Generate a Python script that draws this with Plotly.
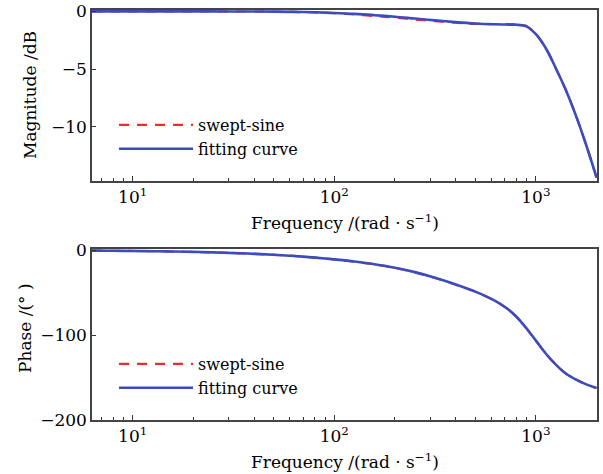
import math
import plotly.graph_objects as go

# Frequency grid (rad/s)
freq = [6.28, 8, 10, 13, 16, 20, 25, 32, 40, 50, 63, 80, 100, 126, 158, 200,
        251, 316, 398, 501, 631, 708, 794, 891, 1000, 1122, 1259, 1413,
        1585, 1778, 2000]

# Magnitude (dB)
mag_swept = [0.0, 0.0, 0.0, 0.0, 0.0, 0.0, 0.0, -0.01, -0.01, -0.03, -0.05,
             -0.09, -0.16, -0.27, -0.40, -0.54, -0.70, -0.85, -0.98, -1.08,
             -1.10, -1.10, -1.12, -1.25, -1.98, -3.22, -4.97, -6.88, -9.1,
             -11.6, -14.4]
mag_fit = [0.0, 0.0, 0.0, 0.0, 0.0, 0.0, 0.0, -0.01, -0.01, -0.02, -0.04,
           -0.08, -0.14, -0.22, -0.33, -0.46, -0.62, -0.78, -0.93, -1.05,
           -1.12, -1.14, -1.16, -1.28, -1.98, -3.22, -4.97, -6.88, -9.1,
           -11.6, -14.4]

# Phase (deg)
phase_swept = [-0.7, -0.9, -1.1, -1.45, -1.8, -2.2, -2.8, -3.6, -4.5, -5.6,
               -7.0, -8.9, -11.1, -13.8, -16.9, -21.1, -26.3, -32.9, -40.6,
               -49.2, -60.3, -67.8, -77.7, -91.1, -106.6, -122.1, -135.1,
               -145.6, -152.6, -158.1, -162.4]
phase_fit = [-0.7, -0.9, -1.1, -1.45, -1.8, -2.2, -2.8, -3.6, -4.5, -5.6,
             -7.0, -8.9, -11.0, -13.6, -16.7, -20.8, -26.0, -32.6, -40.3,
             -49.0, -60.1, -67.6, -77.6, -91.1, -106.6, -122.1, -135.1,
             -145.6, -152.6, -158.1, -162.4]

X_TITLE = "Frequency /(rad · s<sup>−1</sup>)"
MAG_TITLE = "Magnitude /dB"
PHASE_TITLE = "Phase /(° )"

RED = "#ef2b2d"
BLUE = "#3a4cc0"
FONT = "DejaVu Serif"
W, H = 603, 474

minor_vals = [7, 8, 9, 20, 30, 40, 50, 60, 70, 80, 90,
              200, 300, 400, 500, 600, 700, 800, 900, 2000]

fig = go.Figure()


def add_pair(xref, yref, legend, swept, fit):
    fig.add_trace(go.Scatter(
        x=freq, y=swept, mode="lines", name="swept-sine",
        xaxis=xref, yaxis=yref, legend=legend,
        line=dict(color=RED, width=2.2, dash="10px,8px", shape="spline")))
    fig.add_trace(go.Scatter(
        x=freq, y=fit, mode="lines", name="fitting curve",
        xaxis=xref, yaxis=yref, legend=legend,
        line=dict(color=BLUE, width=2.6, shape="spline")))


add_pair("x", "y", "legend", mag_swept, mag_fit)
add_pair("x2", "y2", "legend2", phase_swept, phase_fit)

xdom = [92 / W, 597 / W]
top_dom = [1 - 181 / H, 1 - 10 / H]
bot_dom = [1 - 420 / H, 1 - 249 / H]

xcommon = dict(
    type="log",
    range=[math.log10(6.28), math.log10(2010)],
    tickvals=[10, 100, 1000],
    ticktext=["10<sup>1</sup>", "10<sup>2</sup>", "10<sup>3</sup>"],
    ticks="inside", ticklen=5, tickcolor="#333",
    minor=dict(tickvals=minor_vals, ticks="inside", ticklen=3,
               tickcolor="#333"),
    showline=True, linecolor="#444", linewidth=1.5, mirror=True,
    showgrid=False, zeroline=False, automargin=False,
    tickfont=dict(family=FONT, size=17, color="black"),
    domain=xdom,
)
ycommon = dict(
    ticks="inside", ticklen=4, tickcolor="#333",
    showline=True, linecolor="#444", linewidth=1.5, mirror=True,
    showgrid=False, zeroline=False, automargin=False,
    tickfont=dict(family=FONT, size=17, color="black"),
)

legend_common = dict(
    bgcolor="rgba(0,0,0,0)", borderwidth=0, itemwidth=74,
    font=dict(family=FONT, size=16, color="black"),
    xanchor="left", yanchor="top", tracegroupgap=0,
)

title_font = dict(family=FONT, size=17, color="black")
xc = (xdom[0] + xdom[1]) / 2
annotations = [
    dict(text=X_TITLE, x=xc, y=1 - 222 / H),
    dict(text=X_TITLE, x=xc, y=1 - 461 / H),
    dict(text=MAG_TITLE, x=30 / W, y=1 - 95 / H, textangle=-90),
    dict(text=PHASE_TITLE, x=25 / W, y=1 - 328 / H, textangle=-90),
]
for a in annotations:
    a.update(xref="paper", yref="paper", showarrow=False,
             xanchor="center", yanchor="middle", font=title_font)

fig.update_layout(
    template="none",
    width=W, height=H,
    margin=dict(l=0, r=0, t=0, b=0, pad=0),
    paper_bgcolor="white", plot_bgcolor="white",
    xaxis=dict(anchor="y", **xcommon),
    xaxis2=dict(anchor="y2", **xcommon),
    yaxis=dict(anchor="x", domain=top_dom, range=[-14.7, 0.12],
               tickvals=[-10, -5, 0], **ycommon),
    yaxis2=dict(anchor="x2", domain=bot_dom, range=[-200, 1.2],
                tickvals=[-200, -100, 0], **ycommon),
    legend=dict(x=114 / W, y=1 - 108 / H, **legend_common),
    legend2=dict(x=114 / W, y=1 - 347 / H, **legend_common),
    annotations=annotations,
    showlegend=True,
)

fig.write_html("out.html")
